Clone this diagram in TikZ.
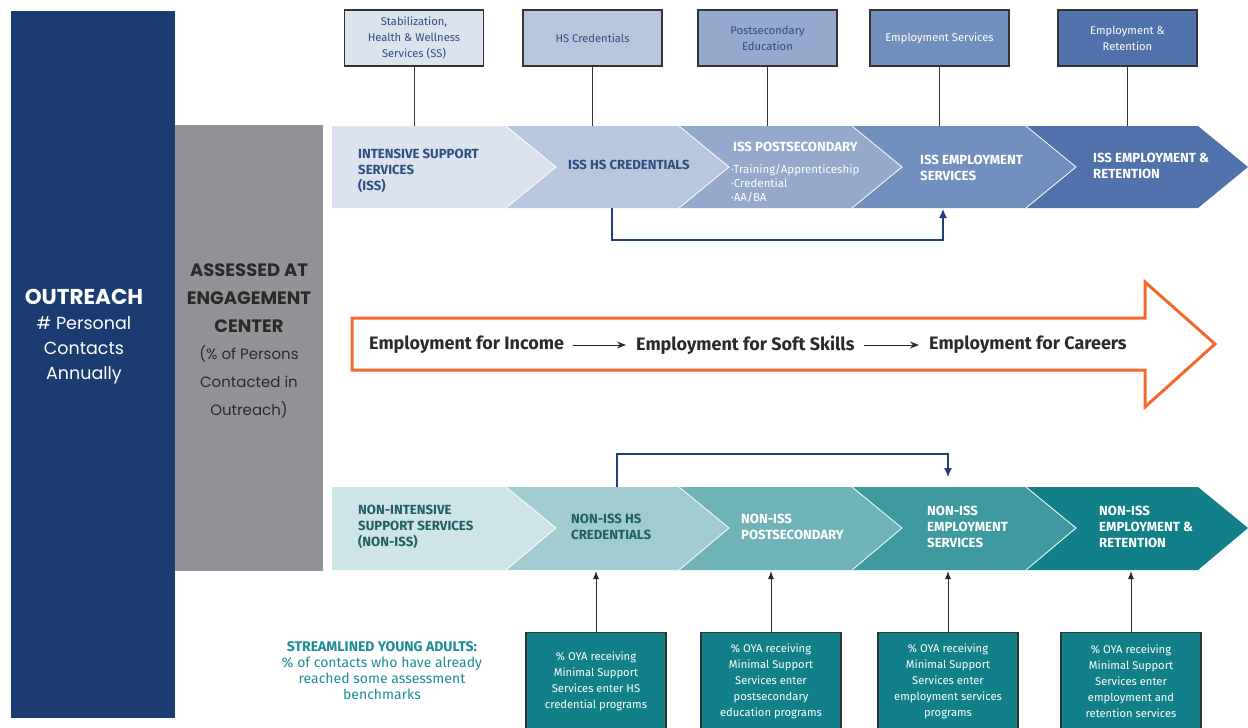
\documentclass[tikz,border=0pt]{standalone}
\usepackage{fontspec}
\setmainfont{Fira Sans}
\newfontfamily\latof{Poppins}
\usetikzlibrary{arrows.meta}
\definecolor{iss1}{HTML}{DCE3EF}
\definecolor{iss2}{HTML}{B8C7DE}
\definecolor{iss3}{HTML}{94A9CC}
\definecolor{iss4}{HTML}{7190BD}
\definecolor{iss5}{HTML}{4F72AA}
\definecolor{nt1}{HTML}{CEE5E8}
\definecolor{nt2}{HTML}{A0CCD1}
\definecolor{nt3}{HTML}{6FB3B9}
\definecolor{nt4}{HTML}{3F9AA0}
\definecolor{nt5}{HTML}{128089}
\definecolor{isstxt}{HTML}{2C4F80}
\definecolor{nttxt}{HTML}{1F5F63}
\definecolor{navy}{HTML}{1A3C70}
\definecolor{grayc}{HTML}{929396}
\definecolor{darktxt}{HTML}{2A2A2A}
\definecolor{orng}{HTML}{F26A2C}
\definecolor{linkblue}{HTML}{1F3F78}
\definecolor{edge}{HTML}{333333}
\definecolor{tealtxt}{HTML}{1E8C95}
\begin{document}
\begin{tikzpicture}[x=1pt,y=-1pt,
  topbox/.style={draw=edge, line width=1.2pt, minimum width=139pt, minimum height=56pt, align=center, font=\fontsize{11.2}{16}\selectfont, inner sep=0pt},
  chevtxt/.style={anchor=west, align=left, font=\fontsize{13.2}{16}\selectfont\bfseries, inner sep=0pt},
  botbox/.style={draw=edge, line width=1.2pt, fill=nt5, text=white, minimum width=140pt, minimum height=97pt, align=center, font=\fontsize{11.2}{16}\selectfont, inner sep=0pt, anchor=north},
  midtxt/.style={anchor=west, inner sep=0pt, font=\fontsize{18}{20}\selectfont\bfseries, text=darktxt},
  stem/.style={draw=edge, line width=1pt},
  uparrow/.style={draw=darktxt, line width=1pt, -{Latex[length=8pt,width=6pt]}},
  link/.style={draw=linkblue, line width=1.2pt, -{Latex[length=9pt,width=8pt]}}
]
\useasboundingbox (0,0) rectangle (1248,728);
\clip (0,0) rectangle (1248,728);

% left columns
\node[fill=navy, anchor=north west, minimum width=164pt, minimum height=707pt, inner sep=0pt] (outreach) at (11,11) {};
\node[fill=grayc, anchor=north west, minimum width=148pt, minimum height=446pt, inner sep=0pt] (eng) at (175,125) {};
\node[text=white, align=center, inner sep=0pt, font=\latof\fontsize{17.5}{25}\selectfont] (outtxt) at (84,337)
  {{\fontsize{21.5}{25}\selectfont\bfseries OUTREACH}\\\# Personal\\Contacts\\Annually};
\node[text=darktxt, align=center, inner sep=0pt, font=\latof\fontsize{15}{27.7}\selectfont] (engtxt) at (249,341)
  {{\fontsize{18}{27.7}\selectfont\bfseries ASSESSED AT}\\{\fontsize{18}{27.7}\selectfont\bfseries ENGAGEMENT}\\{\fontsize{18}{27.7}\selectfont\bfseries CENTER}\\(\% of Persons\\Contacted in\\Outreach)};

% ISS chevrons
\foreach \a/\b/\c [count=\i] in {332/506/iss1,506/679/iss2,679/852/iss3,852/1026/iss4,1026/1198/iss5}{
  \ifnum\i=1
    \fill[\c] (\a,126) -- (\b,126) -- (\b+50,167) -- (\b,208) -- (\a,208) -- cycle;
  \else
    \fill[\c] (\a,126) -- (\b,126) -- (\b+50,167) -- (\b,208) -- (\a,208) -- (\a+50,167) -- cycle;
  \fi
}
\foreach \b in {506,679,852,1026}{\draw[white, line width=0.8pt] (\b,126) -- (\b+50,167) -- (\b,208);}

% Non-ISS chevrons
\foreach \a/\b/\c [count=\i] in {332/506/nt1,506/679/nt2,679/852/nt3,852/1026/nt4,1026/1198/nt5}{
  \ifnum\i=1
    \fill[\c] (\a,487) -- (\b,487) -- (\b+50,528) -- (\b,570) -- (\a,570) -- cycle;
  \else
    \fill[\c] (\a,487) -- (\b,487) -- (\b+50,528) -- (\b,570) -- (\a,570) -- (\a+50,528) -- cycle;
  \fi
}
\foreach \b in {506,679,852,1026}{\draw[white, line width=0.8pt] (\b,487) -- (\b+50,528) -- (\b,570);}

\coordinate (isstop) at (0,126);
\coordinate (ntbot) at (0,571);

% ISS texts
\node[chevtxt, text=isstxt] (i1) at (358,171) {INTENSIVE SUPPORT\\SERVICES\\(ISS)};
\node[chevtxt, text=isstxt] (i2) at (568,165) {ISS HS CREDENTIALS};
\node[chevtxt, text=white] (i3) at (733,147) {ISS POSTSECONDARY};
\node[anchor=west, align=left, inner sep=0pt, text=white, font=\fontsize{11.5}{14}\selectfont] (i3b) at (731,183) {·Training/Apprenticeship\\·Credential\\·AA/BA};
\node[chevtxt, text=white] (i4) at (920,168) {ISS EMPLOYMENT\\SERVICES};
\node[chevtxt, text=white] (i5) at (1093,166) {ISS EMPLOYMENT \&\\RETENTION};

% Non-ISS texts
\node[chevtxt, text=nttxt] (n1) at (358,527) {NON-INTENSIVE\\SUPPORT SERVICES\\(NON-ISS)};
\node[chevtxt, text=nttxt] (n2) at (571,527) {NON-ISS HS\\CREDENTIALS};
\node[chevtxt, text=white] (n3) at (741,527) {NON-ISS\\POSTSECONDARY};
\node[chevtxt, text=white] (n4) at (927,527) {NON-ISS\\EMPLOYMENT\\SERVICES};
\node[chevtxt, text=white] (n5) at (1099,527) {NON-ISS\\EMPLOYMENT \&\\RETENTION};

% top boxes
\node[topbox, fill=iss1, text=isstxt] (t1) at (414,38) {Stabilization,\\Health \& Wellness\\Services (SS)};
\node[topbox, fill=iss2, text=isstxt] (t2) at (592.5,38) {HS Credentials};
\node[topbox, fill=iss3, text=isstxt] (t3) at (767.5,38) {Postsecondary\\Education};
\node[topbox, fill=iss4, text=white] (t4) at (939.5,38) {Employment Services};
\node[topbox, fill=iss5, text=white] (t5) at (1127.5,38) {Employment \&\\Retention};
\foreach \t in {t1,t2,t3,t4,t5}{\draw[stem] (\t.south) -- (\t.south |- isstop);}

% bottom boxes
\node[botbox] (bA) at (596,632) {\% OYA receiving\\Minimal Support\\Services enter HS\\credential programs};
\node[botbox] (bB) at (771,632) {\% OYA receiving\\Minimal Support\\Services enter\\postsecondary\\education programs};
\node[botbox] (bC) at (948,632) {\% OYA receiving\\Minimal Support\\Services enter\\employment services\\programs};
\node[botbox] (bD) at (1131,632) {\% OYA receiving\\Minimal Support\\Services enter\\employment and\\retention services};
\foreach \t in {bA,bB,bC,bD}{\draw[uparrow] (\t.north) -- (\t.north |- ntbot);}

% streamlined text
\node[align=center, inner sep=0pt, text=tealtxt, font=\fontsize{14}{16}\selectfont] (stream) at (382,671)
  {{\bfseries STREAMLINED YOUNG ADULTS:}\\\% of contacts who have already\\reached some assessment\\benchmarks};

% skip links
\coordinate (ls) at (612,208);
\coordinate (lm1) at (612,240);
\coordinate (lm2) at (943,240);
\coordinate (le) at (943,209);
\draw[link] (ls) -- (lm1) -- (lm2) -- (le);
\coordinate (ms) at (617,487);
\coordinate (mm1) at (617,454);
\coordinate (mm2) at (948,454);
\coordinate (me) at (948,477);
\draw[link] (ms) -- (mm1) -- (mm2) -- (me);

% middle orange arrow
\draw[orng, line width=3pt, line join=miter] (352,318) -- (1145,318) -- (1145,282) -- (1215,344) -- (1145,407) -- (1145,370) -- (352,370) -- cycle;
\node[midtxt] (e1) at (369,345) {Employment for Income};
\node[midtxt] (e2) at (636,345) {Employment for Soft Skills};
\node[midtxt] (e3) at (929,345) {Employment for Careers};
\draw[darktxt, line width=1pt, -{Stealth[length=9pt,width=7pt]}, shorten <=9pt, shorten >=10pt] (e1.east) -- (e2.west);
\draw[darktxt, line width=1pt, -{Stealth[length=9pt,width=7pt]}, shorten <=9pt, shorten >=10pt] (e2.east) -- (e3.west);
\end{tikzpicture}
\end{document}
